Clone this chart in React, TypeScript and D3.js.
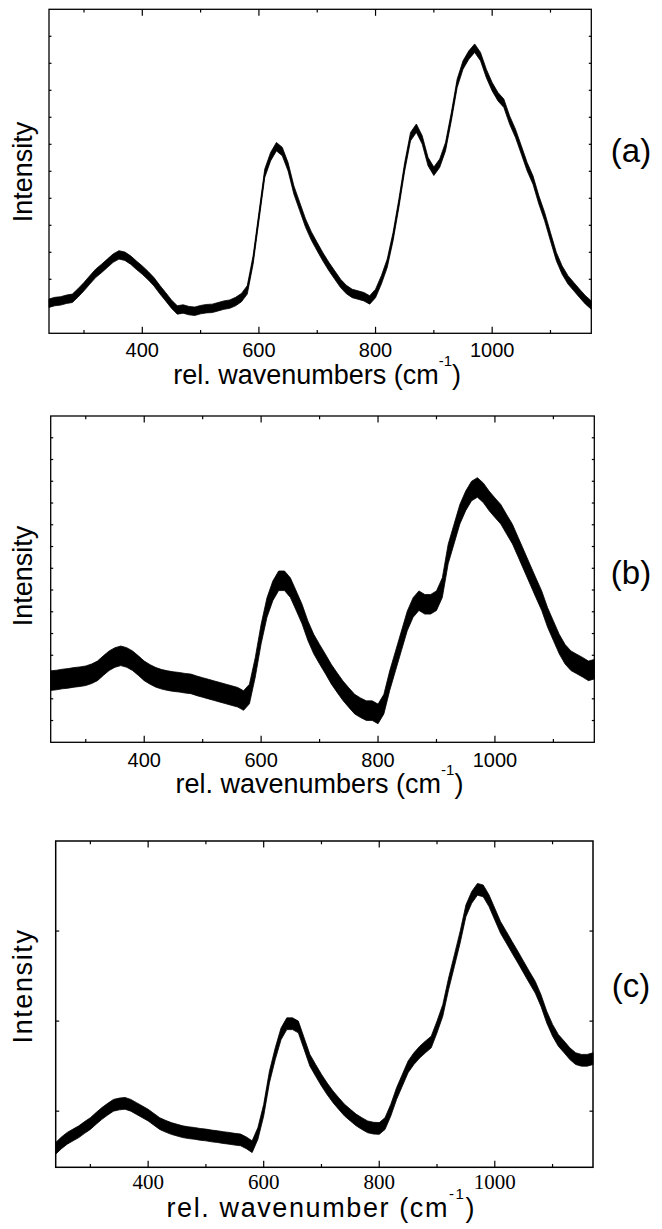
import React from "react";
import * as d3 from "d3";

// ---- data (wavenumber grid, cm^-1) ----
const wavenumbers = [
  240, 250, 260, 270, 280, 290, 300, 310, 320, 330,
  340, 350, 360, 370, 380, 390, 400, 410, 420, 430,
  440, 450, 460, 470, 480, 490, 500, 510, 520, 530,
  540, 550, 560, 570, 580, 590, 600, 610, 620, 630,
  640, 650, 660, 670, 680, 690, 700, 710, 720, 730,
  740, 750, 760, 770, 780, 790, 800, 810, 820, 830,
  840, 850, 860, 870, 880, 890, 900, 910, 920, 930,
  940, 950, 960, 970, 980, 990, 1000, 1010, 1020, 1030,
  1040, 1050, 1060, 1070, 1080, 1090, 1100, 1110, 1120, 1130,
  1140, 1150, 1160, 1170,
];

// relative intensity (0 = bottom of frame, 100 = top of frame)
const intensityA = [
  9.3, 9.8, 10.0, 10.5, 10.8, 12.5, 14.4, 16.5, 18.5, 20.0,
  21.6, 23.2, 24.2, 23.8, 22.6, 21.0, 19.5, 17.8, 15.9, 13.5,
  11.3, 9.0, 7.2, 7.5, 7.0, 6.8, 7.3, 7.6, 7.7, 8.2,
  8.7, 9.0, 9.8, 11.0, 13.4, 22.6, 36.0, 49.4, 54.5, 57.6,
  56.1, 51.4, 44.2, 39.1, 34.0, 30.0, 26.7, 23.5, 20.6, 18.0,
  15.4, 13.5, 12.3, 11.8, 11.3, 10.3, 12.3, 16.5, 21.6, 29.8,
  40.1, 51.4, 60.7, 63.3, 59.7, 53.0, 50.0, 52.5, 57.6, 66.9,
  77.2, 82.8, 85.9, 88.0, 85.4, 80.2, 76.1, 73.0, 71.0, 65.8,
  61.7, 56.6, 51.4, 47.3, 41.2, 36.0, 29.8, 23.7, 19.5, 16.5,
  14.4, 12.3, 10.3, 8.7,
];

const intensityB = [
  18.9, 19.1, 19.4, 19.6, 19.9, 20.1, 20.4, 21.0, 21.9, 23.5,
  25.0, 26.0, 26.5, 26.0, 25.0, 23.5, 21.9, 20.8, 19.9, 19.3,
  18.9, 18.6, 18.4, 18.1, 17.9, 17.3, 16.8, 16.3, 15.8, 15.3,
  14.8, 14.3, 13.8, 12.8, 14.8, 23.0, 33.2, 41.3, 46.4, 49.5,
  49.5, 47.4, 43.4, 39.3, 34.2, 30.1, 27.0, 24.0, 20.9, 18.3,
  15.8, 13.7, 11.7, 10.6, 9.7, 9.7, 8.7, 11.7, 18.9, 25.0,
  31.1, 37.2, 41.3, 43.4, 42.3, 42.3, 43.4, 47.4, 57.7, 63.8,
  69.9, 74.0, 77.0, 78.1, 76.5, 74.0, 71.9, 69.9, 66.8, 63.8,
  59.7, 55.6, 51.5, 47.4, 43.4, 38.3, 34.2, 30.1, 27.0, 25.0,
  24.0, 23.0, 21.9, 22.4,
];

const intensityC = [
  5.8, 7.5, 8.9, 9.9, 10.9, 12.2, 13.4, 15.0, 16.5, 17.8,
  19.0, 19.4, 19.6, 19.0, 18.0, 17.0, 16.0, 14.7, 13.4, 12.6,
  11.9, 11.4, 10.9, 10.6, 10.4, 10.1, 9.9, 9.6, 9.4, 9.1,
  8.9, 8.6, 8.4, 7.5, 6.3, 10.4, 17.5, 27.7, 34.8, 40.9,
  44.0, 44.0, 43.0, 37.9, 32.8, 29.7, 26.7, 24.0, 21.6, 19.5,
  17.5, 16.0, 14.5, 13.4, 12.4, 12.0, 11.9, 13.4, 17.5, 22.6,
  26.7, 30.8, 33.3, 35.3, 36.9, 38.4, 43.0, 48.1, 56.2, 63.3,
  70.5, 78.6, 82.7, 85.2, 84.7, 81.7, 77.6, 73.5, 70.5, 67.4,
  64.4, 61.3, 58.2, 55.2, 51.1, 46.0, 42.0, 38.9, 36.9, 34.8,
  33.3, 32.8, 32.8, 33.3,
];

// half-width of the noise band, same units as intensity
const noiseA = 1.3;
const noiseB = 3.0;
const noiseC = 1.8;

const majorTicks = [400, 600, 800, 1000];
const minorTicks = [300, 500, 700, 900, 1100];
const xDomain = [240, 1170];

const yTicksA = [8.33, 16.67, 25, 33.33, 41.67, 50, 58.33, 66.67, 75, 83.33, 91.67];
const yTicksB = [6.67, 13.33, 20, 26.67, 33.33, 40, 46.67, 53.33, 60, 66.67, 73.33, 80, 86.67, 93.33];
const yTicksC = [17.2, 44.8, 72.4];

const SANS = "'Liberation Sans', Arial, Helvetica, sans-serif";
const SERIF = "'Liberation Serif', 'Times New Roman', serif";

const panels = [
  {
    key: "a", values: intensityA, noise: noiseA, yTicks: yTicksA,
    left: 49, right: 591.3, top: 9.3, bottom: 333.3,
    tickFont: SANS, tickSize: 20, tickDy: 24,
    xlabel: "rel. wavenumbers (cm", xlabelY: 384, xlabelSpacing: 0,
    ylabelY: 172, ylabelSpacing: 0, tag: "(a)", tagY: 162,
    yTickLen: 2.5, stroke: 1.3,
  },
  {
    key: "b", values: intensityB, noise: noiseB, yTicks: yTicksB,
    left: 50.7, right: 594.3, top: 416, bottom: 742.3,
    tickFont: SANS, tickSize: 20, tickDy: 24.5,
    xlabel: "rel. wavenumbers (cm", xlabelY: 793, xlabelSpacing: 0,
    ylabelY: 576, ylabelSpacing: 0, tag: "(b)", tagY: 584,
    yTickLen: 2.5, stroke: 1.3,
  },
  {
    key: "c", values: intensityC, noise: noiseC, yTicks: yTicksC,
    left: 55.7, right: 593, top: 841, bottom: 1167.3,
    tickFont: SERIF, tickSize: 21, tickDy: 21.5,
    xlabel: "rel. wavenumber (cm", xlabelY: 1217, xlabelSpacing: 1.6,
    ylabelY: 986, ylabelSpacing: 1.6, tag: "(c)", tagY: 997,
    yTickLen: 3.5, stroke: 1.5,
  },
];

function Panel({ p }: { p: any }) {
  const x = d3.scaleLinear().domain(xDomain).range([p.left, p.right]);
  const y = d3.scaleLinear().domain([0, 100]).range([p.bottom, p.top]);
  const pts = wavenumbers.map((w, i) => ({ w, v: p.values[i] }));
  const area = d3
    .area<any>()
    .x((d) => x(d.w))
    .y0((d) => y(d.v - p.noise))
    .y1((d) => y(d.v + p.noise));
  const line = d3
    .line<any>()
    .x((d) => x(d.w))
    .y((d) => y(d.v));
  const cx = (p.left + p.right) / 2 - 3;
  const majLen = 6.5;
  const minLen = 3.3;
  return (
    <g>
      <path d={area(pts) || ""} fill="#000" stroke="#000" strokeWidth={0.8} strokeLinejoin="round" />
      <path d={line(pts) || ""} fill="none" stroke="#000" strokeWidth={1.2} />
      <rect x={p.left} y={p.top} width={p.right - p.left} height={p.bottom - p.top} fill="none" stroke="#000" strokeWidth={p.stroke} />
      {majorTicks.map((t) => (
        <g key={"M" + t}>
          <line x1={x(t)} x2={x(t)} y1={p.bottom} y2={p.bottom - majLen} stroke="#000" strokeWidth={1.2} />
          <line x1={x(t)} x2={x(t)} y1={p.top} y2={p.top + majLen} stroke="#000" strokeWidth={1.2} />
          <text x={x(t)} y={p.bottom + p.tickDy} textAnchor="middle" fontFamily={p.tickFont} fontSize={p.tickSize} fill="#000">
            {t}
          </text>
        </g>
      ))}
      {minorTicks.map((t) => (
        <g key={"m" + t}>
          <line x1={x(t)} x2={x(t)} y1={p.bottom} y2={p.bottom - minLen} stroke="#000" strokeWidth={1.2} />
          <line x1={x(t)} x2={x(t)} y1={p.top} y2={p.top + minLen} stroke="#000" strokeWidth={1.2} />
        </g>
      ))}
      {p.yTicks.map((t: number) => (
        <g key={"y" + t}>
          <line x1={p.left} x2={p.left + p.yTickLen} y1={y(t)} y2={y(t)} stroke="#000" strokeWidth={1.2} />
          <line x1={p.right} x2={p.right - p.yTickLen} y1={y(t)} y2={y(t)} stroke="#000" strokeWidth={1.2} />
        </g>
      ))}
      <text x={cx} y={p.xlabelY} textAnchor="middle" fontFamily={SANS} fontSize={27} letterSpacing={p.xlabelSpacing} fill="#000">
        {p.xlabel}
        <tspan fontSize={15} dy={-18}>-1</tspan>
        <tspan dy={18}>)</tspan>
      </text>
      <text
        transform={`translate(32,${p.ylabelY}) rotate(-90)`}
        textAnchor="middle"
        fontFamily={SANS}
        fontSize={27}
        letterSpacing={p.ylabelSpacing}
        fill="#000"
      >
        Intensity
      </text>
      <text x={631} y={p.tagY} textAnchor="middle" fontFamily={SANS} fontSize={33} fill="#000">
        {p.tag}
      </text>
    </g>
  );
}

export default function App() {
  return (
    <svg
      width={662}
      height={1229}
      viewBox="0 0 662 1229"
      style={{ position: "absolute", left: 0, top: 0, background: "#fff" }}
    >
      <rect x={0} y={0} width={662} height={1229} fill="#fff" />
      {panels.map((p) => (
        <Panel key={p.key} p={p} />
      ))}
    </svg>
  );
}
